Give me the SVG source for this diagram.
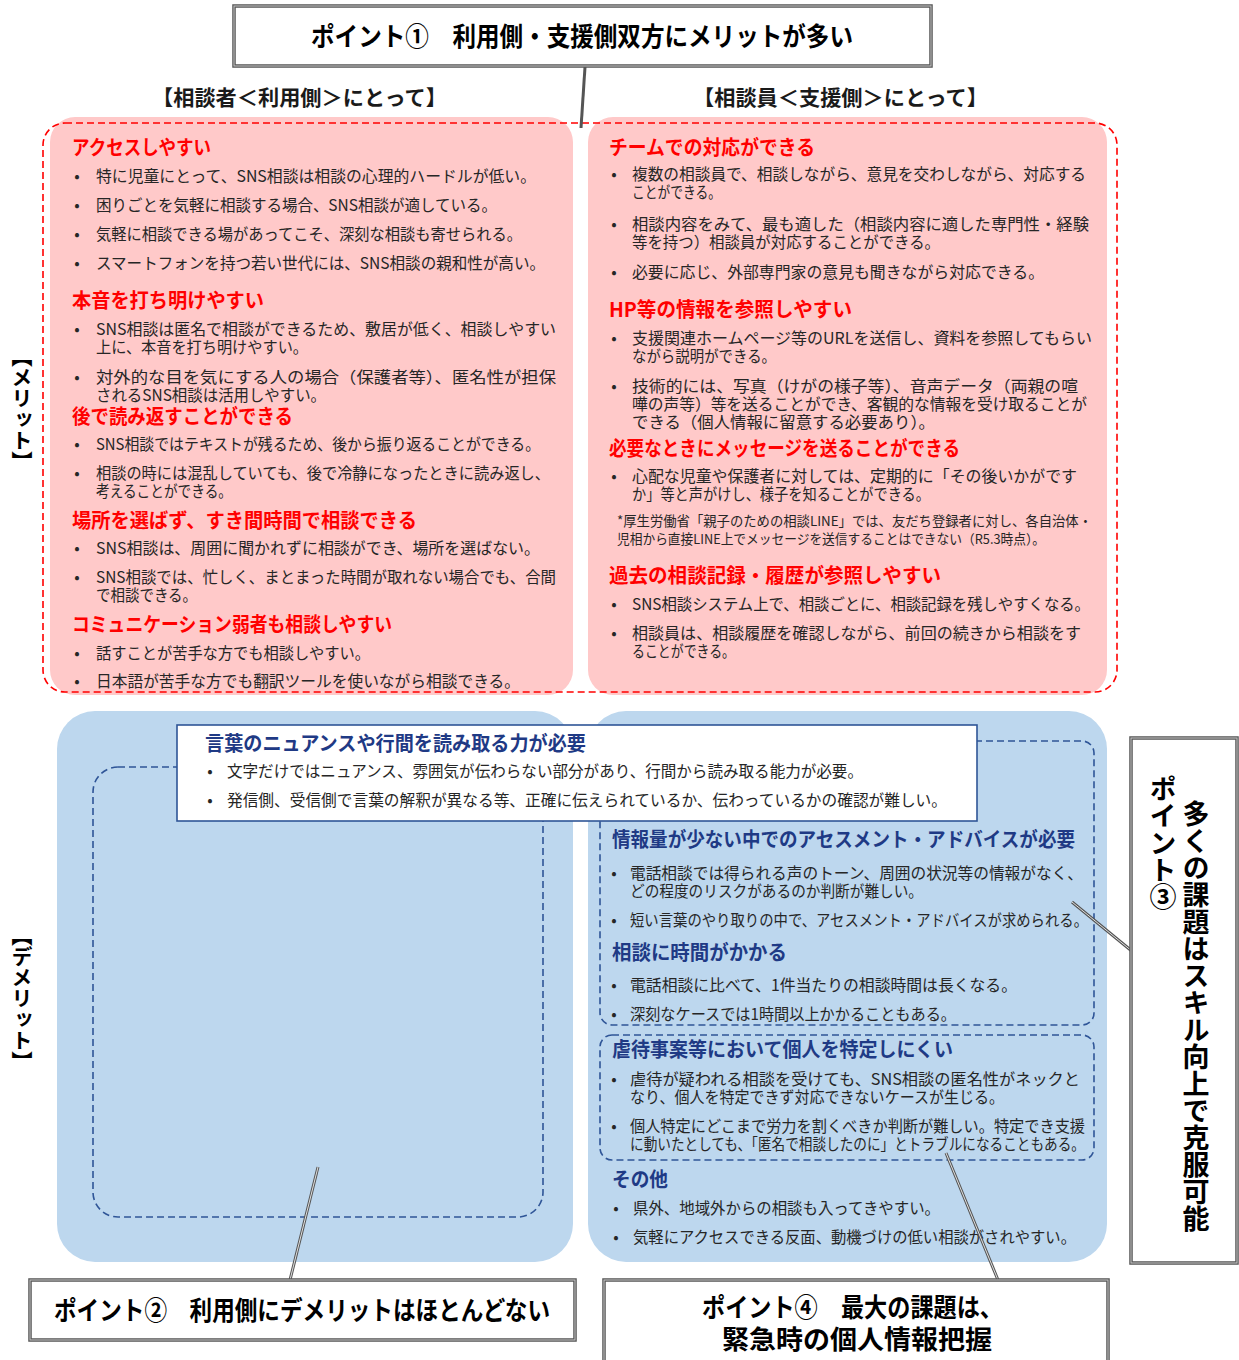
<svg xmlns="http://www.w3.org/2000/svg" width="1239" height="1360" viewBox="0 0 1239 1360">
<style>
text{font-family:'Noto Sans CJK JP','Noto Sans',sans-serif;}
.b{font-size:16px;fill:#262626;}
.bl{font-size:16px;fill:#262626;text-anchor:middle;}
.n{font-size:13.5px;fill:#262626;}
.hr{font-size:20px;font-weight:bold;fill:#FF0000;}
.hb{font-size:20px;font-weight:bold;fill:#1F3A85;}
.hd{font-size:21px;font-weight:bold;fill:#1a1a1a;}
.pt{font-size:26px;font-weight:bold;fill:#000;}
.vt{font-size:27px;font-weight:bold;fill:#000;writing-mode:vertical-rl;}
.vl{font-size:21px;font-weight:bold;fill:#000;writing-mode:vertical-rl;}
.pink{fill:#FFC9C9;}
.blue{fill:#BDD7EE;}
.rdash{fill:none;stroke:#FF0000;stroke-width:1.6;stroke-dasharray:7 4;}
.bdash{fill:none;stroke:#2F5597;stroke-width:1.6;stroke-dasharray:7 4;}
.pbox{fill:#fff;stroke:#555;stroke-width:3.5;}
.pin{fill:none;stroke:#c8c8c8;stroke-width:1;}
.con{stroke:#555;stroke-width:3;fill:none;}
.coni{stroke:#e0e0e0;stroke-width:1;fill:none;}
</style>

<!-- merit panels -->
<g id="merit-user">
<rect class="pink" x="50" y="117" width="523" height="578" rx="25"/>
</g>
<g id="merit-staff">
<rect class="pink" x="588" y="117" width="519" height="578" rx="25"/>
</g>
<rect class="rdash" x="43" y="123" width="1074" height="569" rx="22"/>

<g id="merit-user-text">
<text class="hr" x="72" y="155" textLength="139" lengthAdjust="spacingAndGlyphs">アクセスしやすい</text>
<text class="bl" x="77" y="182">•</text><text class="b" x="96" y="182" textLength="440" lengthAdjust="spacingAndGlyphs">特に児童にとって、SNS相談は相談の心理的ハードルが低い。</text>
<text class="bl" x="77" y="211">•</text><text class="b" x="96" y="211" textLength="401" lengthAdjust="spacingAndGlyphs">困りごとを気軽に相談する場合、SNS相談が適している。</text>
<text class="bl" x="77" y="240">•</text><text class="b" x="96" y="240" textLength="426" lengthAdjust="spacingAndGlyphs">気軽に相談できる場があってこそ、深刻な相談も寄せられる。</text>
<text class="bl" x="77" y="269">•</text><text class="b" x="96" y="269" textLength="449" lengthAdjust="spacingAndGlyphs">スマートフォンを持つ若い世代には、SNS相談の親和性が高い。</text>
<text class="hr" x="72" y="308" textLength="192" lengthAdjust="spacingAndGlyphs">本音を打ち明けやすい</text>
<text class="bl" x="77" y="335">•</text><text class="b"><tspan x="96" y="335" textLength="460" lengthAdjust="spacingAndGlyphs">SNS相談は匿名で相談ができるため、敷居が低く、相談しやすい</tspan><tspan x="96" y="353" textLength="212" lengthAdjust="spacingAndGlyphs">上に、本音を打ち明けやすい。</tspan></text>
<text class="bl" x="77" y="383">•</text><text class="b"><tspan x="96" y="383" textLength="460" lengthAdjust="spacingAndGlyphs">対外的な目を気にする人の場合（保護者等）、匿名性が担保</tspan><tspan x="96" y="401" textLength="230" lengthAdjust="spacingAndGlyphs">されるSNS相談は活用しやすい。</tspan></text>
<text class="hr" x="72" y="424" textLength="221" lengthAdjust="spacingAndGlyphs">後で読み返すことができる</text>
<text class="bl" x="77" y="450">•</text><text class="b" x="96" y="450" textLength="444" lengthAdjust="spacingAndGlyphs">SNS相談ではテキストが残るため、後から振り返ることができる。</text>
<text class="bl" x="77" y="479">•</text><text class="b"><tspan x="96" y="479" textLength="454" lengthAdjust="spacingAndGlyphs">相談の時には混乱していても、後で冷静になったときに読み返し、</tspan><tspan x="96" y="497" textLength="136" lengthAdjust="spacingAndGlyphs">考えることができる。</tspan></text>
<text class="hr" x="72" y="528" textLength="345" lengthAdjust="spacingAndGlyphs">場所を選ばず、すき間時間で相談できる</text>
<text class="bl" x="77" y="554">•</text><text class="b" x="96" y="554" textLength="444" lengthAdjust="spacingAndGlyphs">SNS相談は、周囲に聞かれずに相談ができ、場所を選ばない。</text>
<text class="bl" x="77" y="583">•</text><text class="b"><tspan x="96" y="583" textLength="460" lengthAdjust="spacingAndGlyphs">SNS相談では、忙しく、まとまった時間が取れない場合でも、合間</tspan><tspan x="96" y="601" textLength="101" lengthAdjust="spacingAndGlyphs">で相談できる。</tspan></text>
<text class="hr" x="72" y="632" textLength="320" lengthAdjust="spacingAndGlyphs">コミュニケーション弱者も相談しやすい</text>
<text class="bl" x="77" y="659">•</text><text class="b" x="96" y="659" textLength="274" lengthAdjust="spacingAndGlyphs">話すことが苦手な方でも相談しやすい。</text>
<text class="bl" x="77" y="687">•</text><text class="b" x="96" y="687" textLength="424" lengthAdjust="spacingAndGlyphs">日本語が苦手な方でも翻訳ツールを使いながら相談できる。</text>
</g>

<g id="merit-staff-text">
<text class="hr" x="609" y="155" textLength="206" lengthAdjust="spacingAndGlyphs">チームでの対応ができる</text>
<text class="bl" x="614" y="180">•</text><text class="b"><tspan x="632" y="180" textLength="454" lengthAdjust="spacingAndGlyphs">複数の相談員で、相談しながら、意見を交わしながら、対応する</tspan><tspan x="632" y="198" textLength="89" lengthAdjust="spacingAndGlyphs">ことができる。</tspan></text>
<text class="bl" x="614" y="230">•</text><text class="b"><tspan x="632" y="230" textLength="457" lengthAdjust="spacingAndGlyphs">相談内容をみて、最も適した（相談内容に適した専門性・経験</tspan><tspan x="632" y="248" textLength="308" lengthAdjust="spacingAndGlyphs">等を持つ）相談員が対応することができる。</tspan></text>
<text class="bl" x="614" y="278">•</text><text class="b" x="632" y="278" textLength="412" lengthAdjust="spacingAndGlyphs">必要に応じ、外部専門家の意見も聞きながら対応できる。</text>
<text class="hr" x="609" y="317" textLength="243" lengthAdjust="spacingAndGlyphs">HP等の情報を参照しやすい</text>
<text class="bl" x="614" y="344">•</text><text class="b"><tspan x="632" y="344" textLength="460" lengthAdjust="spacingAndGlyphs">支援関連ホームページ等のURLを送信し、資料を参照してもらい</tspan><tspan x="632" y="362" textLength="144" lengthAdjust="spacingAndGlyphs">ながら説明ができる。</tspan></text>
<text class="bl" x="614" y="392">•</text><text class="b"><tspan x="632" y="392" textLength="446" lengthAdjust="spacingAndGlyphs">技術的には、写真（けがの様子等）、音声データ（両親の喧</tspan><tspan x="632" y="410" textLength="455" lengthAdjust="spacingAndGlyphs">嘩の声等）等を送ることができ、客観的な情報を受け取ることが</tspan><tspan x="632" y="428" textLength="303" lengthAdjust="spacingAndGlyphs">できる（個人情報に留意する必要あり）。</tspan></text>
<text class="hr" x="609" y="456" textLength="351" lengthAdjust="spacingAndGlyphs">必要なときにメッセージを送ることができる</text>
<text class="bl" x="614" y="482">•</text><text class="b"><tspan x="632" y="482" textLength="445" lengthAdjust="spacingAndGlyphs">心配な児童や保護者に対しては、定期的に「その後いかがです</tspan><tspan x="632" y="500" textLength="298" lengthAdjust="spacingAndGlyphs">か」等と声がけし、様子を知ることができる。</tspan></text>
<text class="n"><tspan x="617" y="526" textLength="475" lengthAdjust="spacingAndGlyphs">*厚生労働省「親子のための相談LINE」では、友だち登録者に対し、各自治体・</tspan><tspan x="617" y="544" textLength="428" lengthAdjust="spacingAndGlyphs">児相から直接LINE上でメッセージを送信することはできない（R5.3時点）。</tspan></text>
<text class="hr" x="609" y="583" textLength="332" lengthAdjust="spacingAndGlyphs">過去の相談記録・履歴が参照しやすい</text>
<text class="bl" x="614" y="610">•</text><text class="b" x="632" y="610" textLength="458" lengthAdjust="spacingAndGlyphs">SNS相談システム上で、相談ごとに、相談記録を残しやすくなる。</text>
<text class="bl" x="614" y="639">•</text><text class="b"><tspan x="632" y="639" textLength="449" lengthAdjust="spacingAndGlyphs">相談員は、相談履歴を確認しながら、前回の続きから相談をす</tspan><tspan x="632" y="657" textLength="103" lengthAdjust="spacingAndGlyphs">ることができる。</tspan></text>
</g>

<!-- headers and side labels -->
<g id="header-user"><text class="hd" x="152" y="105" textLength="295" lengthAdjust="spacingAndGlyphs">【相談者＜利用側＞にとって】</text></g>
<g id="header-staff"><text class="hd" x="693" y="105" textLength="295" lengthAdjust="spacingAndGlyphs">【相談員＜支援側＞にとって】</text></g>
<g id="label-merit"><text class="vl" x="22" y="346">【メリット】</text></g>
<g id="label-demerit"><text class="vl" x="22" y="925">【デメリット】</text></g>

<!-- demerit panels -->
<g id="demerit-user">
<rect class="blue" x="57" y="711" width="516" height="551" rx="38"/>
<rect class="bdash" x="93" y="767" width="450" height="450" rx="25"/>
</g>
<g id="demerit-staff">
<rect class="blue" x="588" y="711" width="519" height="551" rx="38"/>
<rect class="bdash" x="600" y="741" width="494" height="284" rx="12"/>
<rect class="bdash" x="600" y="1035" width="494" height="125" rx="12"/>
<text class="hb" x="612" y="847" textLength="463" lengthAdjust="spacingAndGlyphs">情報量が少ない中でのアセスメント・アドバイスが必要</text>
<text class="bl" x="614" y="879">•</text><text class="b"><tspan x="630" y="879" textLength="453" lengthAdjust="spacingAndGlyphs">電話相談では得られる声のトーン、周囲の状況等の情報がなく、</tspan><tspan x="630" y="897" textLength="293" lengthAdjust="spacingAndGlyphs">どの程度のリスクがあるのか判断が難しい。</tspan></text>
<text class="bl" x="614" y="926">•</text><text class="b" x="630" y="926" textLength="458" lengthAdjust="spacingAndGlyphs">短い言葉のやり取りの中で、アセスメント・アドバイスが求められる。</text>
<text class="hb" x="612" y="960" textLength="175" lengthAdjust="spacingAndGlyphs">相談に時間がかかる</text>
<text class="bl" x="614" y="991">•</text><text class="b" x="630" y="991" textLength="387" lengthAdjust="spacingAndGlyphs">電話相談に比べて、1件当たりの相談時間は長くなる。</text>
<text class="bl" x="614" y="1020">•</text><text class="b" x="630" y="1020" textLength="326" lengthAdjust="spacingAndGlyphs">深刻なケースでは1時間以上かかることもある。</text>
<text class="hb" x="612" y="1057" textLength="341" lengthAdjust="spacingAndGlyphs">虐待事案等において個人を特定しにくい</text>
<text class="bl" x="614" y="1085">•</text><text class="b"><tspan x="630" y="1085" textLength="450" lengthAdjust="spacingAndGlyphs">虐待が疑われる相談を受けても、SNS相談の匿名性がネックと</tspan><tspan x="630" y="1103" textLength="374" lengthAdjust="spacingAndGlyphs">なり、個人を特定できず対応できないケースが生じる。</tspan></text>
<text class="bl" x="614" y="1132">•</text><text class="b"><tspan x="630" y="1132" textLength="455" lengthAdjust="spacingAndGlyphs">個人特定にどこまで労力を割くべきか判断が難しい。特定でき支援</tspan><tspan x="630" y="1150" textLength="455" lengthAdjust="spacingAndGlyphs">に動いたとしても、「匿名で相談したのに」とトラブルになることもある。</tspan></text>
<text class="hb" x="612" y="1187" textLength="56" lengthAdjust="spacingAndGlyphs">その他</text>
<text class="bl" x="616" y="1214">•</text><text class="b" x="633" y="1214" textLength="307" lengthAdjust="spacingAndGlyphs">県外、地域外からの相談も入ってきやすい。</text>
<text class="bl" x="616" y="1243">•</text><text class="b" x="633" y="1243" textLength="443" lengthAdjust="spacingAndGlyphs">気軽にアクセスできる反面、動機づけの低い相談がされやすい。</text>
</g>

<g id="demerit-common">
<rect x="177" y="725" width="800" height="96" fill="#fff" stroke="#2F5597" stroke-width="1.6"/>
<text class="hb" x="205" y="751" textLength="381" lengthAdjust="spacingAndGlyphs">言葉のニュアンスや行間を読み取る力が必要</text>
<text class="bl" x="210" y="777">•</text><text class="b" x="227" y="777" textLength="636" lengthAdjust="spacingAndGlyphs">文字だけではニュアンス、雰囲気が伝わらない部分があり、行間から読み取る能力が必要。</text>
<text class="bl" x="210" y="806">•</text><text class="b" x="227" y="806" textLength="720" lengthAdjust="spacingAndGlyphs">発信側、受信側で言葉の解釈が異なる等、正確に伝えられているか、伝わっているかの確認が難しい。</text>
</g>

<!-- connectors -->
<g id="connectors">
<line class="con" x1="585" y1="67" x2="581" y2="128"/>
<line class="con" x1="290" y1="1280" x2="318" y2="1167"/>
<line class="coni" x1="290" y1="1280" x2="318" y2="1167"/>
<line class="con" x1="998" y1="1280" x2="946" y2="1153"/>
<line class="coni" x1="998" y1="1280" x2="946" y2="1153"/>
<line class="con" x1="1133" y1="952" x2="1072" y2="902"/>
<line class="coni" x1="1133" y1="952" x2="1072" y2="902"/>
</g>

<!-- point boxes -->
<g id="point1">
<rect class="pbox" x="234" y="6" width="697" height="60"/>
<rect class="pin" x="234" y="6" width="697" height="60"/>
<text class="pt" x="311" y="46" textLength="542" lengthAdjust="spacingAndGlyphs">ポイント①　利用側・支援側双方にメリットが多い</text>
</g>
<g id="point2">
<rect class="pbox" x="30" y="1280" width="545" height="60"/>
<rect class="pin" x="30" y="1280" width="545" height="60"/>
<text class="pt" x="54" y="1320" textLength="496" lengthAdjust="spacingAndGlyphs">ポイント②　利用側にデメリットはほとんどない</text>
</g>
<g id="point3">
<rect class="pbox" x="1131" y="738" width="106" height="525"/>
<rect class="pin" x="1131" y="738" width="106" height="525"/>
<text class="vt" x="1163" y="775">ポイント③</text>
<text class="vt" x="1196" y="800">多くの課題はスキル向上で克服可能</text>
</g>
<g id="point4">
<rect class="pbox" x="604" y="1280" width="504" height="90"/>
<rect class="pin" x="604" y="1280" width="504" height="90"/>
<text class="pt"><tspan x="702" y="1317" textLength="301" lengthAdjust="spacingAndGlyphs">ポイント④　最大の課題は、</tspan><tspan x="722" y="1349" textLength="270" lengthAdjust="spacingAndGlyphs">緊急時の個人情報把握</tspan></text>
</g>
</svg>
